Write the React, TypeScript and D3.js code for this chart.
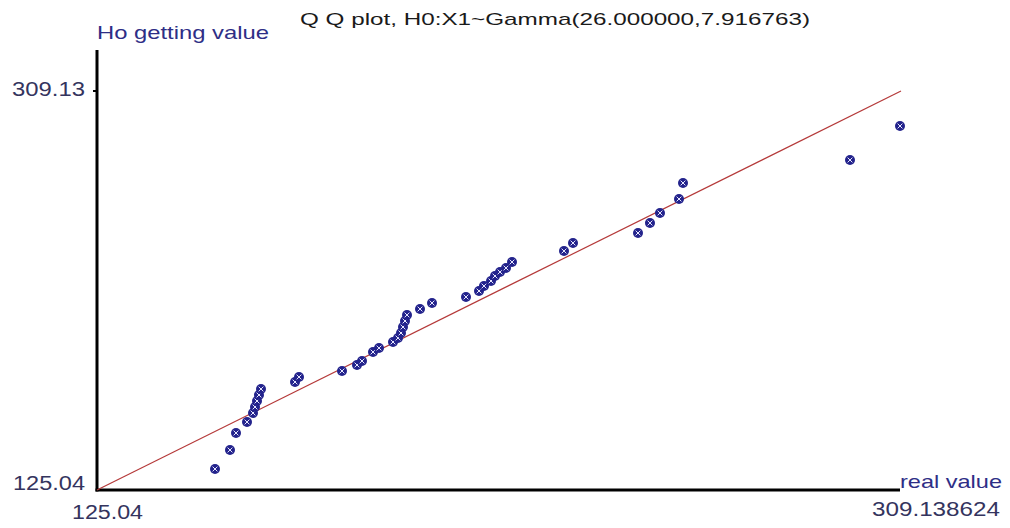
import React from "react";
import * as d3 from "d3";

const AXIS_MIN = 125.04;
const AXIS_MAX = 309.138624;

const realValues = [
  152.06, 155.49, 156.87, 159.39, 160.76, 161.22, 161.68, 162.13, 162.59,
  170.38, 171.29, 181.14, 184.57, 185.72, 188.24, 189.61, 192.82, 193.96,
  194.65, 195.11, 195.57, 196.02, 199.0, 201.75, 209.53, 212.51, 213.65,
  215.26, 216.17, 217.32, 218.69, 220.07, 231.97, 234.03, 248.92, 251.66,
  253.95, 258.31, 259.22, 297.46, 308.91,
];
const hoValues = [
  134.73, 143.5, 151.34, 156.42, 160.57, 163.34, 166.1, 168.87, 171.64,
  174.87, 177.18, 179.95, 182.72, 184.56, 188.71, 190.56, 193.33, 195.17,
  197.48, 200.25, 203.02, 205.79, 208.55, 211.32, 214.09, 216.86, 219.17,
  221.47, 223.78, 225.63, 227.47, 230.24, 235.31, 239.01, 243.62, 248.23,
  252.85, 259.31, 266.69, 277.3, 292.99,
];

const titleText = "Q Q plot, H0:X1~Gamma(26.000000,7.916763)";
const yAxisTitle = "Ho getting value";
const xAxisTitle = "real value";
const yMinLabel = "125.04";
const yMaxLabel = "309.13";
const xMinLabel = "125.04";
const xMaxLabel = "309.138624";

export default function App() {
  const W = 1010;
  const H = 528;
  const x = d3.scaleLinear().domain([AXIS_MIN, AXIS_MAX]).range([97, 901]);
  const y = d3.scaleLinear().domain([AXIS_MIN, AXIS_MAX]).range([490, 91]);
  const font = "'Liberation Sans', Arial, sans-serif";
  const numColor = "#34345e";
  const labelColor = "#2e2e86";
  const pts = realValues.map((v, i) => [x(v), y(hoValues[i])] as [number, number]);
  const line = d3.line()([
    [x(AXIS_MIN), y(AXIS_MIN)],
    [x(AXIS_MAX), y(AXIS_MAX)],
  ]);
  return (
    <svg
      width={W}
      height={H}
      style={{ position: "absolute", left: 0, top: 0, background: "#fff" }}
    >
      <rect width={W} height={H} fill="#fff" />
      <text x={300} y={25} fontFamily={font} fontSize={17} fill="#1a1a1a" textLength={510} lengthAdjust="spacingAndGlyphs">
        {titleText}
      </text>
      <text x={97} y={39} fontFamily={font} fontSize={19} fill={labelColor} textLength={172} lengthAdjust="spacingAndGlyphs">
        {yAxisTitle}
      </text>
      {/* axes */}
      <line x1={97} y1={50} x2={97} y2={491.5} stroke="#000" strokeWidth={3} />
      <line x1={95.5} y1={490} x2={900} y2={490} stroke="#000" strokeWidth={3} />
      <line x1={93} y1={y(AXIS_MAX)} x2={97} y2={y(AXIS_MAX)} stroke="#000" strokeWidth={2} />
      {/* labels */}
      <text x={12} y={96} fontFamily={font} fontSize={20} fill={numColor} textLength={73} lengthAdjust="spacingAndGlyphs">
        {yMaxLabel}
      </text>
      <text x={13} y={490} fontFamily={font} fontSize={20} fill={numColor} textLength={72} lengthAdjust="spacingAndGlyphs">
        {yMinLabel}
      </text>
      <text x={72} y={519} fontFamily={font} fontSize={20} fill={numColor} textLength={71} lengthAdjust="spacingAndGlyphs">
        {xMinLabel}
      </text>
      <text x={900} y={488} fontFamily={font} fontSize={19} fill={labelColor} textLength={102} lengthAdjust="spacingAndGlyphs">
        {xAxisTitle}
      </text>
      <text x={872} y={516} fontFamily={font} fontSize={20} fill={numColor} textLength={128} lengthAdjust="spacingAndGlyphs">
        {xMaxLabel}
      </text>
      {/* reference line */}
      <path d={line || ""} stroke="#b53a3a" strokeWidth={1.2} fill="none" />
      {/* points */}
      {pts.map(([px, py], i) => (
        <g key={i} transform={`translate(${px},${py})`}>
          <circle r={5} fill="#23238c" />
          <line x1={-2.4} y1={-2.4} x2={2.4} y2={2.4} stroke="#e8e8ff" strokeWidth={1} />
          <line x1={-2.4} y1={2.4} x2={2.4} y2={-2.4} stroke="#e8e8ff" strokeWidth={1} />
        </g>
      ))}
    </svg>
  );
}
